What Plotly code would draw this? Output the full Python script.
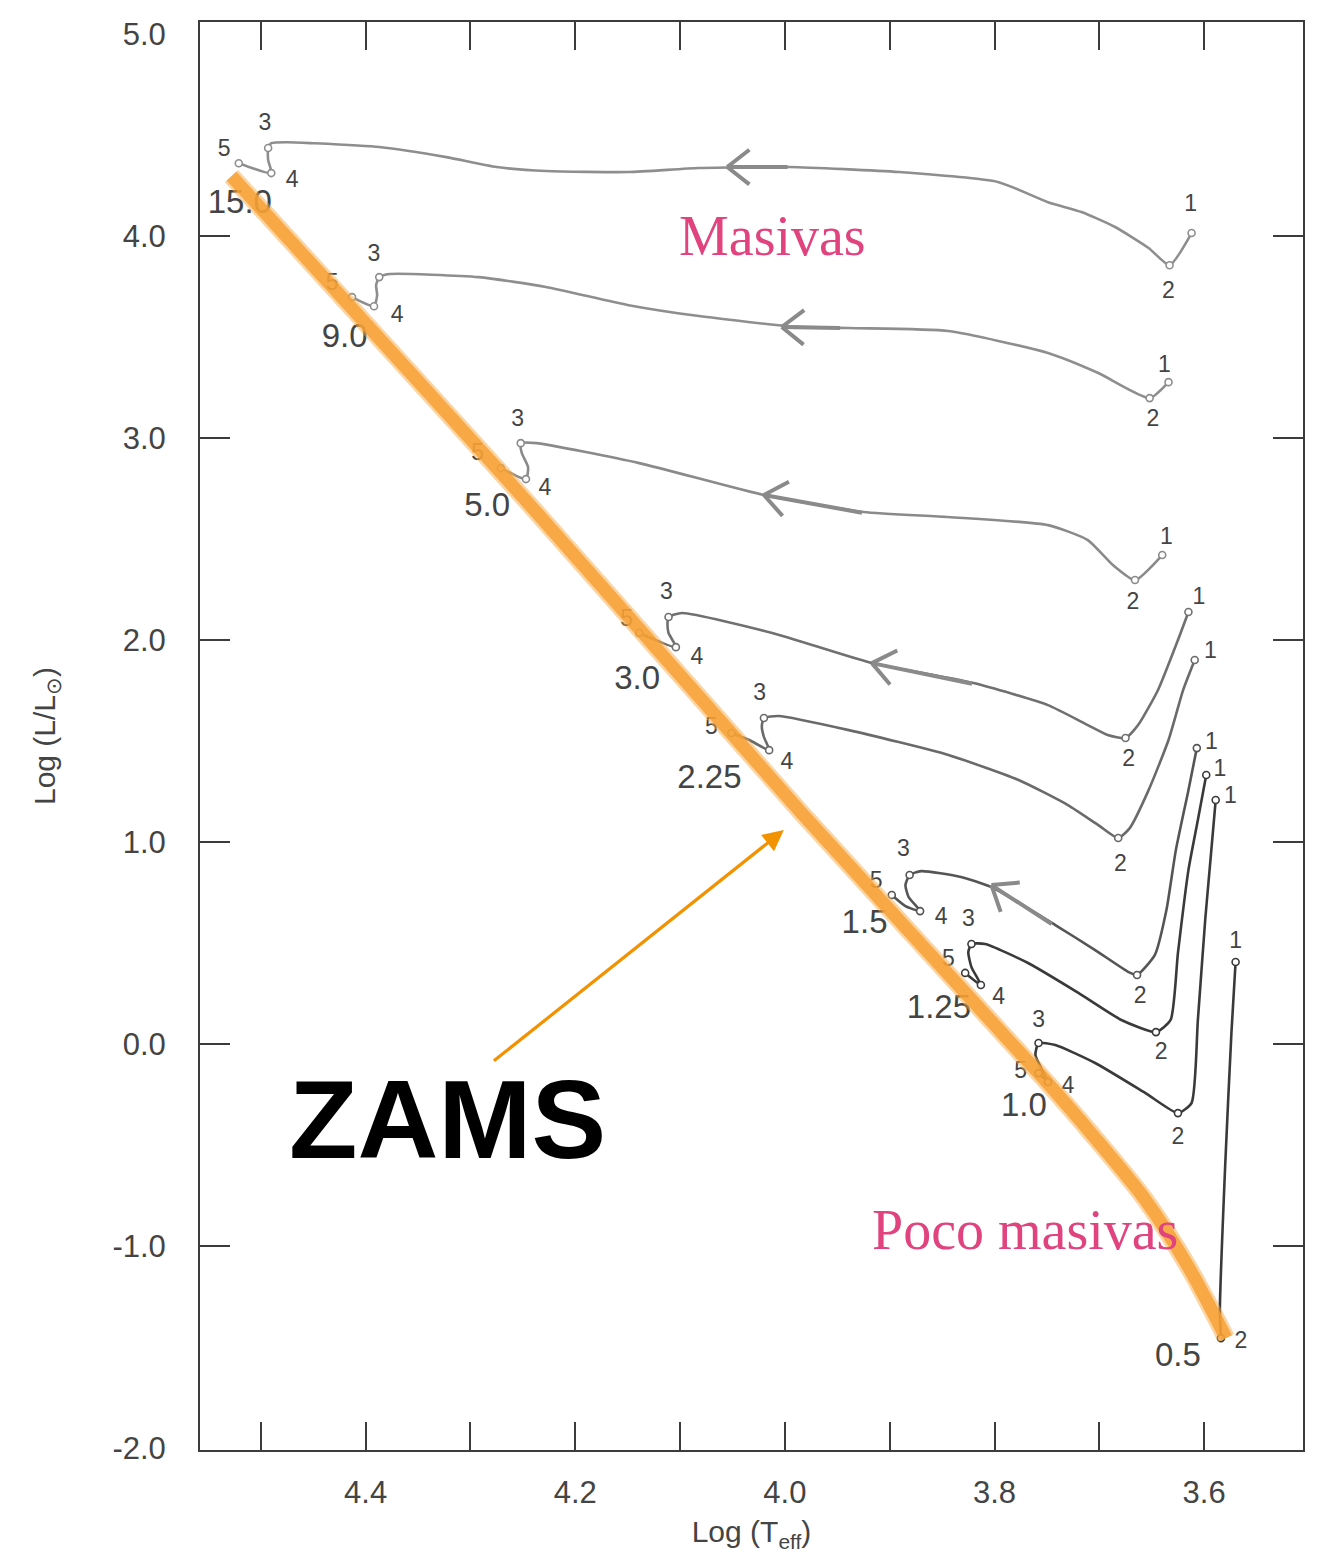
import numpy as np
import plotly.graph_objects as go

# ---------------------------------------------------------------
# Pre-main-sequence evolutionary tracks in the HR diagram
# x: log Teff, y: log(L/Lsun); each path runs from stage 1 to stage 5 (ZAMS)
# ---------------------------------------------------------------
masses = ["15.0", "9.0", "5.0", "3.0", "2.25", "1.5", "1.25", "1.0", "0.5"]

logT_15 = [3.612, 3.633, 3.653, 3.685, 3.717, 3.749, 3.796, 3.891, 3.996, 4.082, 4.149,
           4.228, 4.275, 4.323, 4.387, 4.451, 4.475, 4.490, 4.493, 4.493, 4.490, 4.521]
logL_15 = [4.015, 3.856, 3.941, 4.045, 4.119, 4.168, 4.267, 4.317, 4.342, 4.337, 4.317,
           4.322, 4.342, 4.391, 4.441, 4.460, 4.465, 4.460, 4.436, 4.376, 4.312, 4.361]
stage_15 = ["1", "2", "", "", "", "", "", "", "", "", "", "", "", "", "", "", "", "",
            "3", "", "4", "5"]

logT_9 = [3.634, 3.652, 3.701, 3.749, 3.844, 3.939, 3.996, 4.082, 4.149, 4.228, 4.292,
          4.377, 4.387, 4.390, 4.389, 4.392, 4.413]
logL_9 = [3.277, 3.198, 3.322, 3.421, 3.530, 3.545, 3.554, 3.604, 3.658, 3.748, 3.797,
          3.812, 3.797, 3.757, 3.708, 3.653, 3.698]
stage_9 = ["1", "2", "", "", "", "", "", "", "", "", "", "", "3", "", "", "4", "5"]

logT_5 = [3.640, 3.666, 3.687, 3.711, 3.749, 3.844, 3.925, 4.020, 4.139, 4.237, 4.252,
          4.251, 4.245, 4.247, 4.271]
logL_5 = [2.421, 2.297, 2.371, 2.495, 2.569, 2.609, 2.634, 2.718, 2.876, 2.975, 2.975,
          2.926, 2.856, 2.797, 2.852]
stage_5 = ["1", "2", "", "", "", "", "", "", "", "", "3", "", "", "4", "5"]

logT_3 = [3.615, 3.625, 3.644, 3.663, 3.675, 3.692, 3.711, 3.749, 3.820, 3.917, 4.012,
          4.098, 4.111, 4.112, 4.111, 4.104, 4.139]
logL_3 = [2.139, 2.000, 1.753, 1.579, 1.515, 1.530, 1.579, 1.678, 1.787, 1.886, 2.035,
          2.134, 2.114, 2.074, 2.035, 1.965, 2.035]
stage_3 = ["1", "", "", "", "2", "", "", "", "", "", "", "", "3", "", "", "4", "5"]

logT_225 = [3.609, 3.620, 3.634, 3.653, 3.671, 3.682, 3.701, 3.730, 3.777, 3.844, 3.939,
            4.006, 4.020, 4.022, 4.020, 4.015, 4.034, 4.051]
logL_225 = [1.901, 1.753, 1.505, 1.257, 1.069, 1.020, 1.084, 1.183, 1.307, 1.431, 1.554,
            1.624, 1.614, 1.574, 1.520, 1.455, 1.505, 1.540]
stage_225 = ["1", "", "", "", "", "2", "", "", "", "", "", "", "3", "", "", "4", "", "5"]

logT_15b = [3.607, 3.615, 3.627, 3.636, 3.647, 3.664, 3.672, 3.704, 3.742, 3.803, 3.832,
            3.870, 3.881, 3.885, 3.882, 3.871, 3.885, 3.898]
logL_15b = [1.465, 1.257, 0.960, 0.663, 0.441, 0.342, 0.356, 0.465, 0.589, 0.777, 0.827,
            0.856, 0.837, 0.787, 0.728, 0.658, 0.683, 0.738]
stage_15b = ["1", "", "", "", "", "2", "", "", "", "", "", "", "3", "", "", "4", "", "5"]

logT_125 = [3.598, 3.606, 3.615, 3.625, 3.632, 3.646, 3.679, 3.720, 3.768, 3.809, 3.822,
            3.825, 3.822, 3.813, 3.828]
logL_125 = [1.332, 1.109, 0.861, 0.451, 0.119, 0.059, 0.119, 0.253, 0.401, 0.495, 0.495,
            0.455, 0.381, 0.292, 0.352]
stage_125 = ["1", "", "", "", "", "2", "", "", "", "", "3", "", "", "4", "5"]

logT_10 = [3.589, 3.594, 3.599, 3.606, 3.612, 3.625, 3.656, 3.704, 3.742, 3.758, 3.761,
           3.756, 3.749, 3.758]
logL_10 = [1.208, 0.911, 0.614, 0.119, -0.292, -0.342, -0.243, -0.094, -0.005, 0.005,
           -0.055, -0.114, -0.188, -0.144]
stage_10 = ["1", "", "", "", "", "2", "", "", "", "3", "", "", "4", "5"]

logT_05 = [3.570, 3.574, 3.580, 3.585, 3.584]
logL_05 = [0.406, 0.054, -0.609, -1.317, -1.456]
stage_05 = ["1", "", "", "", "2"]

# positions of the stage numbers written beside each track (in order 1..5)
labT_15 = [3.613, 3.634, 4.496, 4.470, 4.535]
labL_15 = [4.153, 3.723, 4.554, 4.272, 4.426]
labT_9 = [3.638, 3.649, 4.392, 4.370, 4.432]
labL_9 = [3.356, 3.089, 3.906, 3.604, 3.762]
labT_5 = [3.636, 3.668, 4.255, 4.229, 4.293]
labL_5 = [2.505, 2.183, 3.089, 2.748, 2.921]
labT_3 = [3.605, 3.672, 4.113, 4.084, 4.151]
labL_3 = [2.208, 1.406, 2.233, 1.911, 2.099]
labT_225 = [3.594, 3.680, 4.024, 3.998, 4.070]
labL_225 = [1.941, 0.886, 1.733, 1.391, 1.564]
labT_15b = [3.593, 3.661, 3.887, 3.851, 3.913]
labL_15b = [1.490, 0.233, 0.960, 0.624, 0.802]
labT_125 = [3.585, 3.641, 3.825, 3.796, 3.844]
labL_125 = [1.356, -0.045, 0.614, 0.228, 0.416]
labT_10 = [3.575, 3.625, 3.758, 3.730, 3.775]
labL_10 = [1.223, -0.465, 0.114, -0.213, -0.139]
labT_05 = [3.570, 3.565]
labL_05 = [0.505, -1.475]

# mass labels (solar masses) near the ZAMS end of each track
massT = [4.520, 4.420, 4.284, 4.141, 4.072, 3.924, 3.853, 3.772, 3.625]
massL = [4.153, 3.490, 2.653, 1.797, 1.307, 0.589, 0.168, -0.317, -1.555]

# direction-of-evolution arrows (head, tail)
arrow_head_T = [4.055, 4.003, 4.020, 3.917, 3.803]
arrow_head_L = [4.342, 3.550, 2.718, 1.886, 0.787]
arrow_tail_T = [3.996, 3.946, 3.925, 3.820, 3.744]
arrow_tail_L = [4.342, 3.545, 2.629, 1.782, 0.589]

# zero-age main sequence (hand-drawn band)
zams_T = [4.528, 4.239, 3.985, 3.752, 3.708, 3.656, 3.615, 3.579]
zams_L = [4.297, 2.644, 1.149, -0.178, -0.441, -0.772, -1.104, -1.456]

x_ticks = [4.5, 4.4, 4.3, 4.2, 4.1, 4.0, 3.9, 3.8, 3.7, 3.6]
x_ticktext = ["", "4.4", "", "4.2", "", "4.0", "", "3.8", "", "3.6"]
y_labels = [5, 4, 3, 2, 1, 0, -1, -2]
y_labeltext = ["5.0", "4.0", "3.0", "2.0", "1.0", "0.0", "-1.0", "-2.0"]
y_ticks = [4, 3, 2, 1, 0, -1]

# ---------------------------------------------------------------
W, H = 1317, 1555
margin = dict(l=200, r=12, t=22, b=105)
x_range = [4.558, 3.5057]
y_range = [-2.01, 5.06]
plot_w = W - margin["l"] - margin["r"]
plot_h = H - margin["t"] - margin["b"]
px_per_T = plot_w / (x_range[0] - x_range[1])
px_per_L = plot_h / (y_range[1] - y_range[0])

tracks = [
    (logT_15, logL_15, stage_15, labT_15, labL_15, "#8e8e8e"),
    (logT_9, logL_9, stage_9, labT_9, labL_9, "#8e8e8e"),
    (logT_5, logL_5, stage_5, labT_5, labL_5, "#8a8a8a"),
    (logT_3, logL_3, stage_3, labT_3, labL_3, "#707070"),
    (logT_225, logL_225, stage_225, labT_225, labL_225, "#6a6a6a"),
    (logT_15b, logL_15b, stage_15b, labT_15b, labL_15b, "#555555"),
    (logT_125, logL_125, stage_125, labT_125, labL_125, "#3a3a3a"),
    (logT_10, logL_10, stage_10, labT_10, labL_10, "#3a3a3a"),
    (logT_05, logL_05, stage_05, labT_05, labL_05, "#3a3a3a"),
]

fig = go.Figure()
label_font = dict(family="Liberation Sans", size=23, color="#444444")

for T, L, st, lT, lL, col in tracks:
    fig.add_trace(go.Scatter(
        x=T, y=L, mode="lines",
        line=dict(color=col, width=2.6, shape="spline", smoothing=0.55),
        hoverinfo="skip", showlegend=False))
    idx = [i for i, s in enumerate(st) if s]
    fig.add_trace(go.Scatter(
        x=[T[i] for i in idx], y=[L[i] for i in idx], mode="markers",
        marker=dict(symbol="circle", size=7, color="white",
                    line=dict(color=col, width=1.6)),
        hoverinfo="skip", showlegend=False))
    fig.add_trace(go.Scatter(
        x=lT, y=lL, mode="text", text=[s for s in st if s],
        textfont=label_font, textposition="middle center",
        hoverinfo="skip", showlegend=False))

fig.add_trace(go.Scatter(
    x=massT, y=massL, mode="text", text=masses,
    textfont=dict(family="Liberation Sans", size=33, color="#444444"),
    textposition="middle center", hoverinfo="skip", showlegend=False))

# ZAMS band drawn on the overlay axis so it sits above the tracks
fig.add_trace(go.Scatter(
    x=zams_T, y=zams_L, mode="lines", yaxis="y2",
    line=dict(color="rgba(248,170,70,0.50)", width=18, shape="spline", smoothing=0.8),
    hoverinfo="skip", showlegend=False))
fig.add_trace(go.Scatter(
    x=zams_T, y=zams_L, mode="lines", yaxis="y2",
    line=dict(color="rgba(246,160,50,0.82)", width=13, shape="spline", smoothing=0.8),
    hoverinfo="skip", showlegend=False))

# evolution arrows: shaft plus an open chevron head
arrow_grey = "#8a8a8a"
for hT, hL, tT, tL in zip(arrow_head_T, arrow_head_L, arrow_tail_T, arrow_tail_L):
    fig.add_annotation(x=hT, y=hL, ax=tT, ay=tL, xref="x", yref="y",
                       axref="x", ayref="y", text="", showarrow=True,
                       arrowhead=0, arrowwidth=4, arrowcolor=arrow_grey)
    dx = -(tT - hT) * px_per_T
    dy = -(tL - hL) * px_per_L
    n = np.hypot(dx, dy)
    ux, uy = dx / n, dy / n
    for sgn in (1, -1):
        a = np.radians(38) * sgn
        rx = ux * np.cos(a) - uy * np.sin(a)
        ry = ux * np.sin(a) + uy * np.cos(a)
        fig.add_annotation(x=hT, y=hL, ax=rx * 30, ay=ry * 30, xref="x", yref="y",
                           text="", showarrow=True, arrowhead=0, arrowwidth=4,
                           arrowcolor=arrow_grey)

# ZAMS label and pointer
fig.add_annotation(x=4.001, y=1.059, ax=4.279, ay=-0.089, xref="x", yref="y",
                   axref="x", ayref="y", text="", showarrow=True,
                   arrowhead=2, arrowsize=1.3, arrowwidth=3.2, arrowcolor="#F39200")
fig.add_annotation(x=4.322, y=-0.376, xref="x", yref="y", text="<b>ZAMS</b>",
                   showarrow=False,
                   font=dict(family="Liberation Sans", size=112, color="#000000"))
fig.add_annotation(x=4.012, y=4.000, xref="x", yref="y", text="Masivas",
                   showarrow=False,
                   font=dict(family="Liberation Serif", size=56, color="#E0437D"))
fig.add_annotation(x=3.7705, y=-0.921, xref="x", yref="y", text="Poco masivas",
                   showarrow=False,
                   font=dict(family="Liberation Serif", size=56, color="#E0437D"))

axis_col = "#3c3c3c"
tick_font = dict(family="Liberation Sans", size=31, color="#444444")
fig.update_layout(
    width=W, height=H, margin=margin,
    paper_bgcolor="white", plot_bgcolor="white", showlegend=False,
    xaxis=dict(range=x_range, tickvals=x_ticks, ticktext=x_ticktext,
               ticks="inside", ticklen=28, tickwidth=2, tickcolor=axis_col,
               showline=True, linewidth=2, linecolor=axis_col, mirror="ticks",
               showgrid=False, zeroline=False, tickfont=tick_font,
               ticklabelstandoff=14,
               title=dict(text="Log (T<sub>eff</sub>)", standoff=12,
                          font=dict(family="Liberation Sans", size=30, color="#444444"))),
    yaxis=dict(range=y_range, tickvals=y_labels, ticktext=y_labeltext, ticks="",
               showline=True, linewidth=2, linecolor=axis_col, mirror=True,
               showgrid=False, zeroline=False, tickfont=tick_font,
               ticklabelstandoff=26,
               title=dict(text="Log (L/L<sub>⊙</sub>)", standoff=48,
                          font=dict(family="Liberation Sans", size=30, color="#444444"))),
    yaxis2=dict(range=y_range, overlaying="y", side="left", tickvals=y_ticks,
                ticks="inside", ticklen=30, tickwidth=2, tickcolor=axis_col,
                showticklabels=False, showline=True, linewidth=2, linecolor=axis_col,
                mirror="ticks", showgrid=False, zeroline=False),
)

fig.write_html("out.html")
